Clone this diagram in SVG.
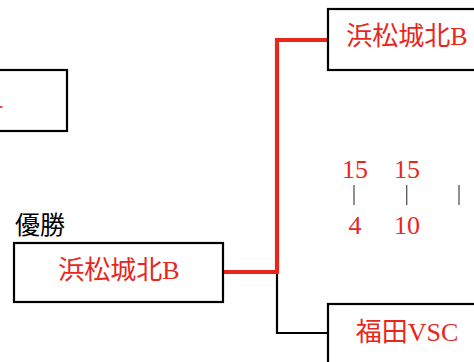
<svg xmlns="http://www.w3.org/2000/svg" width="474" height="362" viewBox="0 0 474 362">
<style>
.box{fill:#fff;stroke:#000;stroke-width:2.2}
.team{font-family:"Liberation Serif","Noto Sans CJK JP",serif;font-size:26px;fill:#e8261c;text-anchor:middle}
.lbl{font-family:"Liberation Serif","Noto Sans CJK JP",serif;font-size:25px;fill:#000}
.score{font-family:"Liberation Serif",serif;font-size:26px;fill:#e8261c;text-anchor:middle}
.win{fill:none;stroke:#e8261c;stroke-width:4.2}
.lose{fill:none;stroke:#000;stroke-width:2.2}
.tick{stroke:#555;stroke-width:1.3}
</style>
<rect width="474" height="362" fill="#fff"/>
<g id="connectors">
<path class="lose" d="M277,272 V333 H328"/>
<path class="win" d="M223,272 H277 V40 H328"/>
</g>
<g id="node-topleft">
<rect class="box" x="-10" y="70" width="77" height="61"/>
<line x1="0" y1="107" x2="2.5" y2="107" stroke="#e8261c" stroke-width="1.6"/>
</g>
<g id="node-topright">
<rect class="box" x="328" y="9" width="160" height="61"/>
<text class="team" x="407" y="45">浜松城北B</text>
</g>
<g id="node-winner">
<text class="lbl" x="15" y="234">優勝</text>
<rect class="box" x="14" y="243" width="209" height="59"/>
<text class="team" x="119" y="279">浜松城北B</text>
</g>
<g id="node-bottomright">
<rect class="box" x="328" y="304" width="160" height="70"/>
<text class="team" x="407" y="341">福田VSC</text>
</g>
<g id="scores">
<text class="score" x="355" y="178">15</text>
<text class="score" x="407" y="178">15</text>
<line class="tick" x1="354" y1="185" x2="354" y2="205"/>
<line class="tick" x1="406.7" y1="185" x2="406.7" y2="205"/>
<line class="tick" x1="459" y1="185" x2="459" y2="205"/>
<text class="score" x="355" y="234">4</text>
<text class="score" x="407" y="234">10</text>
</g>
</svg>
